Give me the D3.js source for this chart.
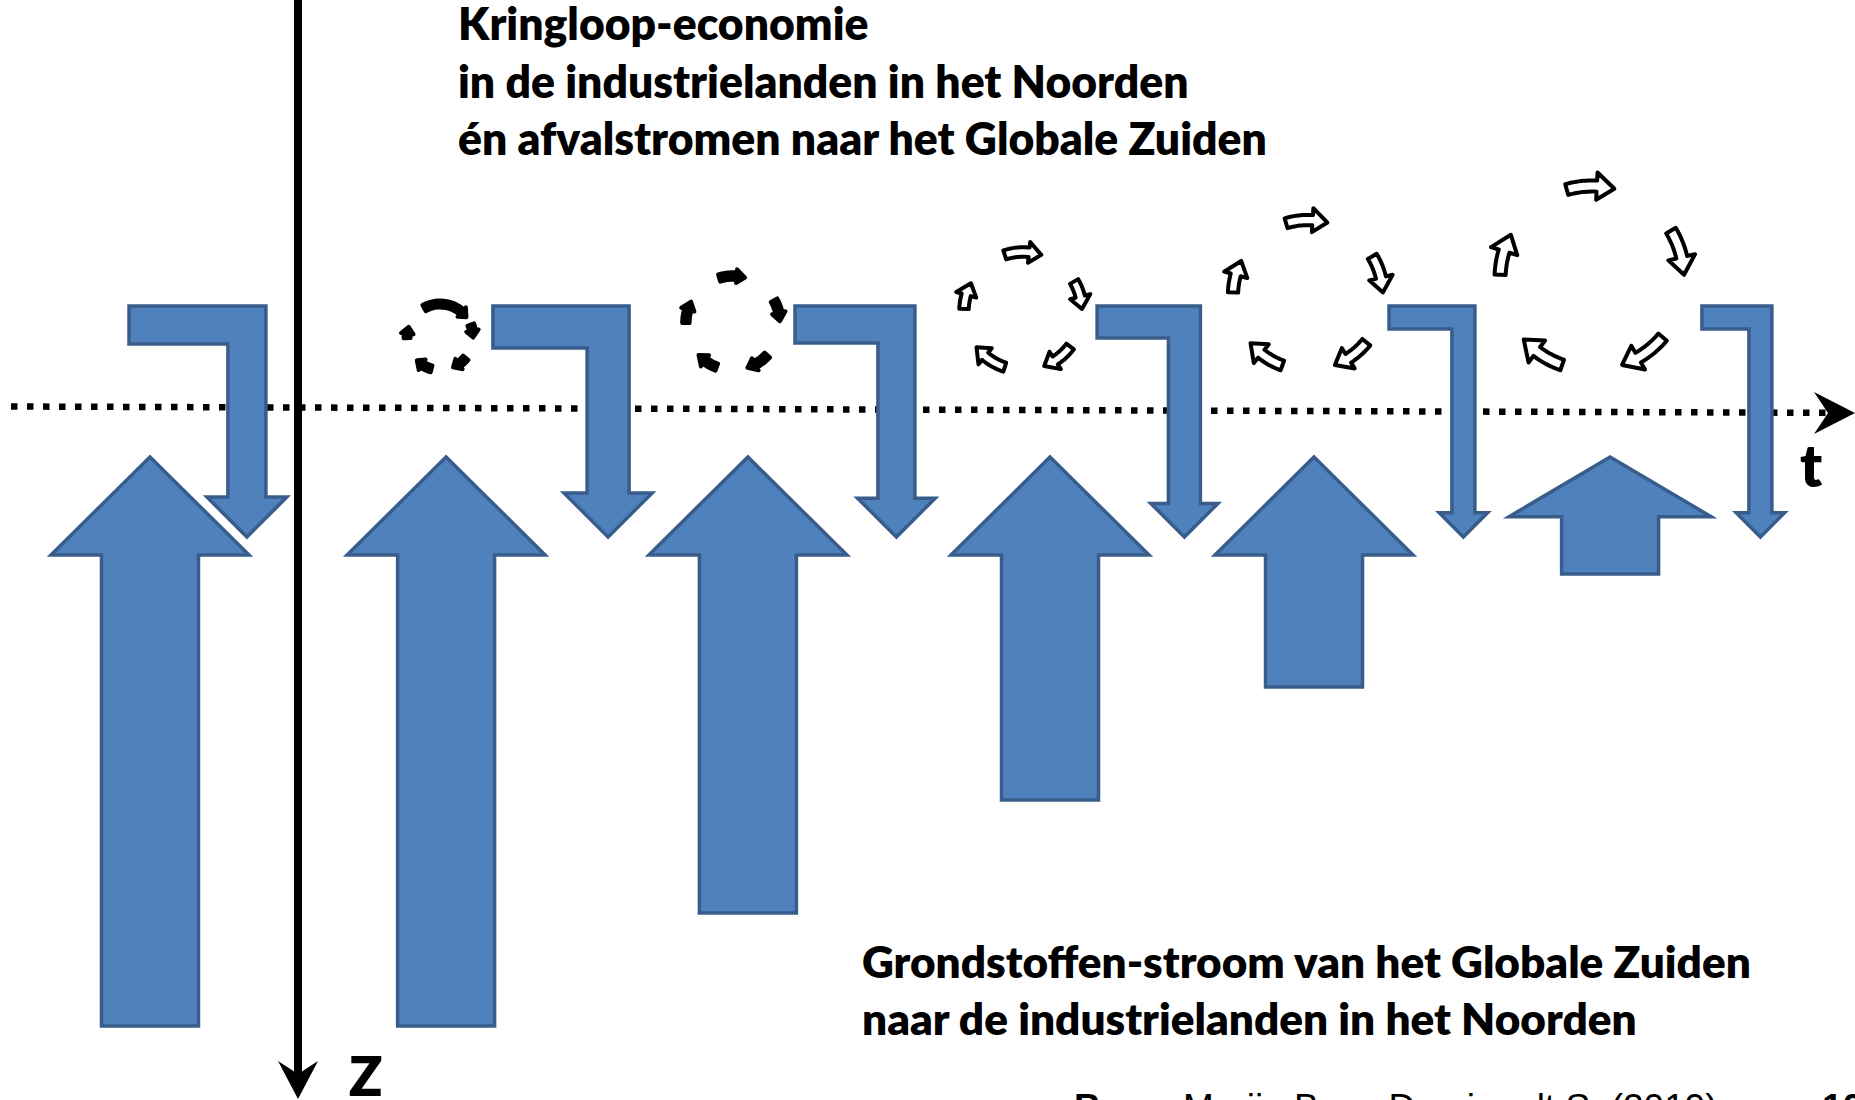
<!DOCTYPE html>
<html><head><meta charset="utf-8">
<script src="https://cdn.jsdelivr.net/npm/d3@7"></script>
<style>html,body{margin:0;padding:0;background:#fff;overflow:hidden}</style>
</head><body>
<svg id="chart" width="1855" height="1100"></svg>
<script>
// ---------------- DATA ----------------
const periods = ["P1", "P2", "P3", "P4", "P5", "P6"];
// raw-material flow from the Global South (upward arrows)
const resourceT = [0.50, 1.487, 2.493, 3.50, 4.38, 5.367];
const resourceFlow = [100, 100, 80, 60, 40, 20];
// waste flows to the Global South (bent downward arrows)
const wasteStartT = [0.43, 1.643, 2.65, 3.657, 4.63, 5.673];
const wasteEndT = [0.823, 2.027, 2.988, 3.948, 4.878, 5.868];
const wasteFlow = [9.5, 10.5, 9.25, 8, 5.75, 5.75];
// circular economy loops (kringloop)
const loopT = [1.467, 2.443, 3.41, 4.36, 5.307];
const loopSize = [33, 47, 59, 75, 92];
const loopStyle = ["solid", "solid", "open", "open", "open"];
const loopArcs = [
  [[-31, 55], [66, 93], [127, 159], [193, 227], [266, 290]],
  [[-19, 17], [59, 90], [131, 164], [198, 229], [268, 299]],
  [[-20, 20], [58, 90], [125, 161], [196, 234], [270, 300]],
  [[-19, 17], [57, 90], [127, 161], [198, 232], [270, 299]],
  [[-18, 16], [57, 90], [128, 163], [197, 230], [270, 300]]
];
// texts
const titleLines = ["Kringloop-economie", "in de industrielanden in het Noorden", "én afvalstromen naar het Globale Zuiden"];
const flowLines = ["Grondstoffen-stroom van het Globale Zuiden", "naar de industrielanden in het Noorden"];
const axisLabels = {t: "t", z: "Z"};
const sourceText = ["Bron:", " Marijn Baas Dominault S. (2019)"];
const pageNumber = "10";

// ---------------- LAYOUT ----------------
const BLUE = "#4F81BD", BLUE_DARK = "#385D8A";
const svg = d3.select("#chart");

const x = d3.scaleLinear().domain([0, 6]).range([0, 1800]);
const yUp = d3.scaleLinear().domain([0, 100]).range([461, 1026]);
const wScale = d3.scaleLinear().domain([0, 10]).range([0, 40]);
const rScale = d3.scaleLinear().domain([0, 100]).range([0, 100]);

const upTip = 457;
const downTop = 306, downTip = 537;
const loopBase = 370;

// ---- time axis (dotted) ----
const tAxis = svg.append("g");
tAxis.append("line")
  .attr("x1", 11).attr("y1", 406.5).attr("x2", 1826).attr("y2", 412.8)
  .attr("stroke", "#000").attr("stroke-width", 6.5)
  .attr("stroke-dasharray", "6.5 9.5");
tAxis.append("path")
  .attr("d", d3.line()([[1855, 413], [1814, 392], [1828, 413], [1814, 434]]) + "Z")
  .attr("fill", "#000");

// ---- Z axis ----
const zAxis = svg.append("g");
zAxis.append("line")
  .attr("x1", 298).attr("y1", 0).attr("x2", 298).attr("y2", 1078)
  .attr("stroke", "#000").attr("stroke-width", 8);
zAxis.append("path")
  .attr("d", d3.line()([[298, 1099], [278, 1061], [298, 1074], [318, 1061]]) + "Z")
  .attr("fill", "#000");

// ---- up arrows ----
const upData = periods.map((p, i) => ({t: resourceT[i], v: resourceFlow[i]}));
svg.append("g").selectAll("path").data(upData).join("path")
  .attr("d", d => {
    const xc = x(d.t), yb = yUp(d.v);
    const len = yb - upTip;
    const hl = Math.min(98, 0.51 * len);
    const hh = len > 200 ? 99 : 101, sh = 48.5;
    return d3.line()([
      [xc, upTip], [xc + hh, upTip + hl], [xc + sh, upTip + hl], [xc + sh, yb],
      [xc - sh, yb], [xc - sh, upTip + hl], [xc - hh, upTip + hl]
    ]) + "Z";
  })
  .attr("fill", BLUE).attr("stroke", BLUE_DARK).attr("stroke-width", 3.5)
  .attr("stroke-linejoin", "miter");

// ---- bent down arrows ----
const downData = periods.map((p, i) => ({t0: wasteStartT[i], t1: wasteEndT[i], v: wasteFlow[i]}));
svg.append("g").selectAll("path").data(downData).join("path")
  .attr("d", d => {
    const x0 = x(d.t0), xc = x(d.t1), w = wScale(d.v);
    const xr = xc + w / 2, xl = xc - w / 2;
    const hh = 1.05 * w, hl = hh;
    const yb = downTip - hl;
    return d3.line()([
      [x0, downTop], [xr, downTop], [xr, yb], [xc + hh, yb], [xc, downTip],
      [xc - hh, yb], [xl, yb], [xl, downTop + w], [x0, downTop + w]
    ]) + "Z";
  })
  .attr("fill", BLUE).attr("stroke", BLUE_DARK).attr("stroke-width", 3.5)
  .attr("stroke-linejoin", "miter");

// ---- loops ----
function pt(cx, cy, rho, deg) {
  const a = deg * Math.PI / 180;
  return [cx + rho * Math.sin(a), cy - rho * Math.cos(a)];
}
function segPath(cx, cy, r, a0, a1, bw, hw, hl) {
  const ah = a1 - (hl / r) * 180 / Math.PI;
  const p = [], n = 14;
  for (let i = 0; i <= n; i++) p.push(pt(cx, cy, r + bw / 2, a0 + (ah - a0) * i / n));
  p.push(pt(cx, cy, r + hw, ah));
  p.push(pt(cx, cy, r, a1));
  p.push(pt(cx, cy, r - hw, ah));
  for (let i = n; i >= 0; i--) p.push(pt(cx, cy, r - bw / 2, a0 + (ah - a0) * i / n));
  return d3.line()(p) + "Z";
}
const loopData = loopT.map((t, i) => ({t, r: loopSize[i], style: loopStyle[i], arcs: loopArcs[i]}));
const loops = svg.append("g").selectAll("g").data(loopData).join("g");
loops.each(function (d) {
  const r = rScale(d.r), cx = x(d.t), cy = loopBase - r;
  const solid = d.style === "solid";
  const bw = solid ? 6 + 0.03 * r : 6.5 + 0.05 * r;
  const hw = solid ? 5 + 0.04 * r : 4.5 + 0.1 * r;
  const hl = solid ? 3 + 0.12 * r : 3 + 0.16 * r;
  d3.select(this).selectAll("path").data(d.arcs).join("path")
    .attr("d", a => segPath(cx, cy, r, a[0] + 2, a[1] - 2, bw, hw, hl))
    .attr("fill", solid ? "#000" : "#fff")
    .attr("stroke", "#000").attr("stroke-width", 4)
    .attr("stroke-linejoin", "round");
});

// ---- texts ----
const FONT = "Lato, 'Open Sans', sans-serif";
function fitBlock(lines, left, baselines, targetWidth) {
  const g = svg.append("g");
  const texts = g.selectAll("text").data(lines).join("text")
    .attr("x", left).attr("y", (d, i) => baselines[i])
    .attr("font-family", FONT).attr("font-weight", 800)
    .attr("font-size", 100).attr("fill", "#000").text(d => d);
  let maxW = 0;
  texts.each(function () { maxW = Math.max(maxW, this.getComputedTextLength()); });
  texts.attr("font-size", 100 * targetWidth / maxW);
}
fitBlock(titleLines, 458, [40, 98, 155], 809);
fitBlock(flowLines, 862, [978, 1035], 889);

svg.append("text").attr("x", 1800).attr("y", 487)
  .attr("font-family", FONT).attr("font-weight", 800).attr("font-size", 58)
  .text(axisLabels.t);
svg.append("text").attr("x", 349).attr("y", 1096)
  .attr("font-family", FONT).attr("font-weight", 800).attr("font-size", 55)
  .text(axisLabels.z);

const src = svg.append("text").attr("x", 1074).attr("y", 1120)
  .attr("font-family", "'Liberation Sans', Arial, sans-serif").attr("font-size", 37);
src.append("tspan").attr("font-weight", 700).text(sourceText[0]);
src.append("tspan").text(sourceText[1]);
svg.append("text").attr("x", 1822).attr("y", 1120)
  .attr("font-family", "'Liberation Sans', Arial, sans-serif").attr("font-size", 37)
  .attr("font-weight", 700).text(pageNumber);
</script>
</body></html>
